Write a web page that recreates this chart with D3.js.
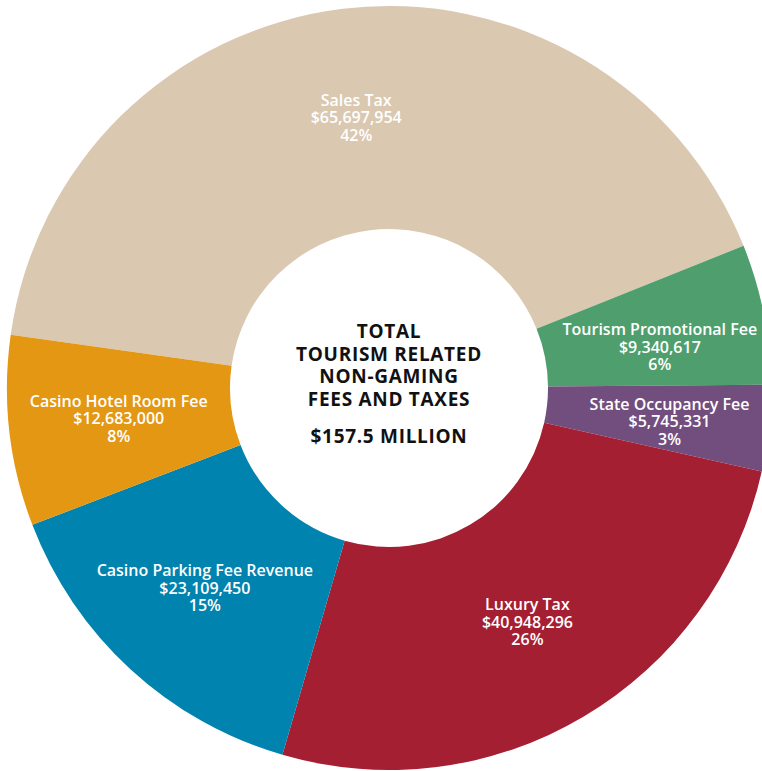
<!DOCTYPE html>
<html>
<head>
<meta charset="utf-8">
<script src="https://cdn.jsdelivr.net/npm/d3@7"></script>
<style>
  html, body { margin: 0; padding: 0; background: #fff; }
  svg { display: block; }
  .slice-label { font-family: "Open Sans", sans-serif; font-weight: 600; fill: #fff; }
  .center-label { font-family: "Open Sans", sans-serif; font-weight: 700; fill: #111; }
</style>
</head>
<body>
<svg width="762" height="771"></svg>
<script>
// Fees and taxes, in clockwise order from Sales Tax
const categories = ["Sales Tax", "Tourism Promotional Fee", "State Occupancy Fee",
  "Luxury Tax", "Casino Parking Fee Revenue", "Casino Hotel Room Fee"];
const amounts = [65697954, 9340617, 5745331, 40948296, 23109450, 12683000];
const percentLabels = ["42%", "6%", "3%", "26%", "15%", "8%"];
const sliceColors = ["#dac8b0", "#4f9f6e", "#724e7e", "#a51f33", "#0083ae", "#e39712"];
const centerLines = ["TOTAL", "TOURISM RELATED", "NON-GAMING", "FEES AND TAXES"];
const centerTotal = "$157.5 MILLION";

const svg = d3.select("svg");

// setting fixed values
const cx = 389;
const cy = 388;
const outerR = 382;
const innerR = 159;
const labelR = 272;
const startDeg = -82;

// hand nudges for the two thin slices on the right
const nudge = {
  "Tourism Promotional Fee": [4, 12],
  "State Occupancy Fee": [10, 5]
};

const g = svg.append("g")
  .attr("transform", `translate(${cx}, ${cy})`);

const data = categories.map((name, i) => ({
  name: name,
  amount: amounts[i],
  pct: percentLabels[i],
  color: sliceColors[i]
}));

const pie = d3.pie()
  .value(d => d.amount)
  .sort(null)
  .startAngle(startDeg * Math.PI / 180)
  .endAngle((startDeg + 360) * Math.PI / 180);

const arc = d3.arc()
  .innerRadius(innerR)
  .outerRadius(outerR);

const labelArc = d3.arc()
  .innerRadius(labelR)
  .outerRadius(labelR);

const arcs = pie(data);

// Drawing the slices
g.selectAll("path")
  .data(arcs)
  .enter()
  .append("path")
  .attr("d", arc)
  .attr("fill", d => d.data.color);

// Slice labels, three lines centred on the centroid
const formatMoney = d3.format("$,");
const lineH = 17.5;

const labels = g.selectAll(".slice-label")
  .data(arcs)
  .enter()
  .append("text")
  .attr("class", "slice-label")
  .attr("text-anchor", "middle")
  .attr("font-size", 16)
  .attr("transform", d => {
    const [x, y] = labelArc.centroid(d);
    const [nx, ny] = nudge[d.data.name] || [0, 0];
    return `translate(${x + nx}, ${y + ny})`;
  });

labels.each(function (d) {
  const lines = [d.data.name, formatMoney(d.data.amount), d.data.pct];
  d3.select(this).selectAll("tspan")
    .data(lines)
    .enter()
    .append("tspan")
    .attr("x", 0)
    .attr("y", (t, i) => (i - 1) * lineH + 5.5)
    .text(t => t);
});

// Centre text
const center = g.append("text")
  .attr("class", "center-label")
  .attr("text-anchor", "middle")
  .attr("font-size", 19)
  .attr("letter-spacing", 0.7);

center.selectAll("tspan")
  .data(centerLines)
  .enter()
  .append("tspan")
  .attr("x", 0)
  .attr("y", (t, i) => -50 + i * 22.7)
  .text(t => t);

center.append("tspan")
  .attr("x", 0)
  .attr("y", 55)
  .text(centerTotal);
</script>
</body>
</html>
